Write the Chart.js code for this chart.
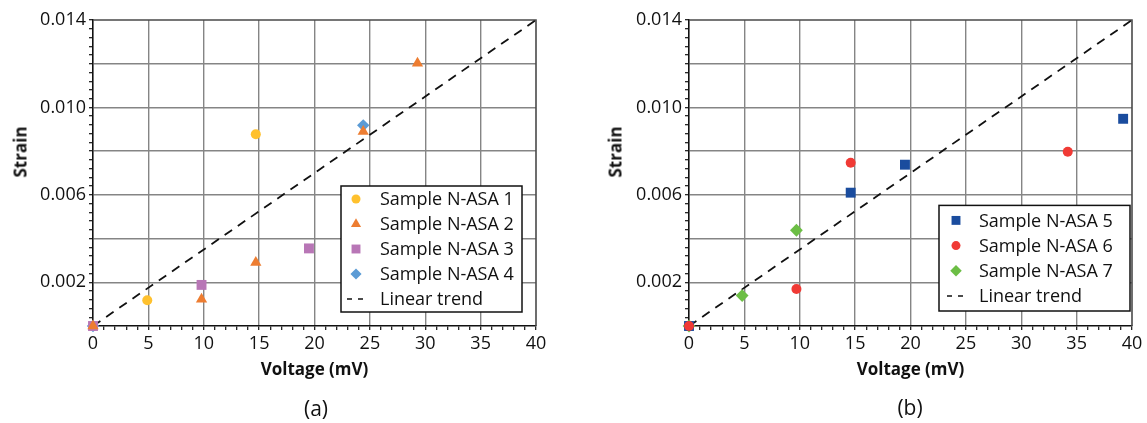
<!DOCTYPE html>
<html><head><meta charset="utf-8">
<script src="https://cdn.jsdelivr.net/npm/chart.js@4.4.0/dist/chart.umd.min.js"></script>
<style>
body{margin:0;background:#fff;width:1147px;height:423px;overflow:hidden;position:relative;font-family:"Open Sans",sans-serif;}
.c{position:absolute;top:0;height:423px;}
#wa{left:0;width:573px;} #wb{left:596px;width:551px;}
.yt{position:absolute;font-weight:bold;font-size:17px;transform:translate(-50%,-50%) rotate(-90deg);white-space:nowrap;color:#111;}
.lab{position:absolute;font-size:21px;transform:translate(-50%,-50%);color:#111;white-space:nowrap;}
</style></head><body>
<div class="c" id="wa"><canvas id="ca"></canvas></div>
<div class="c" id="wb"><canvas id="cb"></canvas></div>
<div class="yt" style="left:20px;top:152px;">Strain</div>
<div class="yt" style="left:615px;top:152px;">Strain</div>
<div class="lab" style="left:316px;top:408px;">(a)</div>
<div class="lab" style="left:910px;top:407px;">(b)</div>
<script>
// ---- data ----
const xTickLabels = ['0','5','10','15','20','25','30','35','40'];
const yTickLabels = ['0.002','0.006','0.010','0.014'];
const xAxisTitle = 'Voltage (mV)';

const seriesNamesA = ['Sample N-ASA 1','Sample N-ASA 2','Sample N-ASA 3','Sample N-ASA 4'];
const voltageA1 = [0, 4.9, 14.7];
const strainA1  = [0, 0.00118, 0.00877];
const voltageA2 = [0, 9.8, 14.7, 24.4, 29.3];
const strainA2  = [0, 0.00122, 0.00291, 0.00890, 0.01202];
const voltageA3 = [0, 9.8, 19.5];
const strainA3  = [0, 0.00188, 0.00355];
const voltageA4 = [0, 24.4];
const strainA4  = [0, 0.00918];

const seriesNamesB = ['Sample N-ASA 5','Sample N-ASA 6','Sample N-ASA 7'];
const voltageB5 = [0, 14.6, 19.5, 39.2];
const strainB5  = [0, 0.00610, 0.00738, 0.00948];
const voltageB6 = [0, 9.7, 14.6, 34.2];
const strainB6  = [0, 0.00169, 0.00747, 0.00797];
const voltageB7 = [0, 4.8, 9.7];
const strainB7  = [0, 0.00139, 0.00438];

const trendName = 'Linear trend';
const trendVoltage = [0, 40];
const trendStrain  = [0, 0.014];

// ---- helpers ----
const FONT = "'Open Sans', sans-serif";
const GRID = '#858585';
const pts = (xs, ys) => xs.map((x, i) => ({x: x, y: ys[i]}));

function marker(ctx, style, r, x, y, color) {
  ctx.save();
  ctx.fillStyle = color;
  ctx.beginPath();
  if (style === 'circle') {
    ctx.arc(x, y, r, 0, Math.PI * 2);
  } else if (style === 'rect') {
    const s = r * Math.SQRT1_2;
    ctx.rect(x - s, y - s, 2 * s, 2 * s);
  } else if (style === 'rectRot') {
    ctx.moveTo(x, y - r); ctx.lineTo(x + r, y); ctx.lineTo(x, y + r); ctx.lineTo(x - r, y);
    ctx.closePath();
  } else if (style === 'triangle') {
    ctx.moveTo(x, y - r);
    ctx.lineTo(x + r * Math.sin(Math.PI * 2 / 3), y - r * Math.cos(Math.PI * 2 / 3));
    ctx.lineTo(x - r * Math.sin(Math.PI * 2 / 3), y - r * Math.cos(Math.PI * 2 / 3));
    ctx.closePath();
  }
  ctx.fill();
  ctx.restore();
}

const boxLegend = {
  id: 'boxLegend',
  afterDatasetsDraw(chart, args, o) {
    const ctx = chart.ctx, a = chart.chartArea;
    const ds = chart.data.datasets;
    const h = o.padTop * 2 + (ds.length - 1) * o.rowH;
    const x0 = a.right - o.right - o.width;
    const y0 = a.bottom - o.bottom - h;
    ctx.save();
    ctx.fillStyle = '#fff';
    ctx.fillRect(x0, y0, o.width, h);
    ctx.strokeStyle = '#111';
    ctx.lineWidth = 1.5;
    ctx.strokeRect(x0, y0, o.width, h);
    ctx.font = '18px ' + FONT;
    ctx.textBaseline = 'middle';
    ctx.fillStyle = '#111';
    ds.forEach((d, i) => {
      const y = y0 + o.padTop + i * o.rowH;
      const mx = x0 + o.markerX;
      if (d.showLine) {
        ctx.save();
        ctx.strokeStyle = '#111'; ctx.lineWidth = 1.6;
        ctx.beginPath();
        ctx.moveTo(mx - 9, y); ctx.lineTo(mx - 4, y);
        ctx.moveTo(mx + 2, y); ctx.lineTo(mx + 7, y);
        ctx.stroke();
        ctx.restore();
      } else {
        marker(ctx, d.pointStyle, d.legendRadius, mx, y, d.backgroundColor);
      }
      ctx.fillStyle = '#111';
      ctx.fillText(d.label, x0 + o.textX, y + 1);
    });
    ctx.restore();
  }
};

const frame = {
  id: 'frame',
  beforeDatasetsDraw(chart) {
    const ctx = chart.ctx, a = chart.chartArea;
    ctx.save();
    ctx.strokeStyle = '#4a4a4a';
    ctx.lineWidth = 1.6;
    ctx.beginPath();
    ctx.moveTo(a.left, a.top); ctx.lineTo(a.right, a.top); ctx.lineTo(a.right, a.bottom);
    ctx.stroke();
    ctx.restore();
  }
};

function scalesCfg() {
  return {
    x: {
      type: 'linear', min: 0, max: 40,
      ticks: {
        stepSize: 1, autoSkip: false, maxRotation: 0, padding: 3, color: '#111',
        font: {family: FONT, size: 18},
        callback: (v) => { const r = Math.round(v); return (Math.abs(v - r) < 1e-6 && xTickLabels.includes(String(r))) ? String(r) : ''; }
      },
      grid: {
        color: (c) => { const v = c.tick ? Math.round(c.tick.value) : -1; return (v % 5 === 0 && v > 0 && v < 40) ? GRID : 'rgba(0,0,0,0)'; },
        lineWidth: 1.4, tickColor: '#111', tickLength: 4, tickWidth: 1.2
      },
      border: {color: '#111', width: 1.6},
      title: {display: true, text: xAxisTitle, color: '#111', font: {family: FONT, size: 17, weight: 'bold'}, padding: {top: 0, bottom: 0}},
      afterFit: (s) => { s.height = 54; }
    },
    y: {
      type: 'linear', min: 0, max: 0.014,
      ticks: {
        stepSize: 0.0004, autoSkip: false, maxTicksLimit: 100, padding: 3, color: '#111',
        font: {family: FONT, size: 18},
        callback: (v) => {
          const k = Math.round(v * 10000);
          if (Math.abs(v * 10000 - k) > 1e-6) return '';
          const s = (k / 10000).toFixed(3);
          return (k % 40 === 20 && yTickLabels.includes(s)) ? s : '';
        }
      },
      grid: {
        color: (c) => { const k = c.tick ? Math.round(c.tick.value * 10000) : -1; return (k % 20 === 0 && k > 0 && k < 140) ? GRID : 'rgba(0,0,0,0)'; },
        lineWidth: 1.4, tickColor: '#111', tickLength: 4, tickWidth: 1.2
      },
      border: {color: '#111', width: 1.6},
      afterFit: (s) => { s.width = 93; }
    }
  };
}

function scatterSet(label, xs, ys, color, style, r, order) {
  return {label: label, data: pts(xs, ys), backgroundColor: color, borderColor: color, borderWidth: 0,
    pointStyle: style, pointRadius: r, pointHoverRadius: r, legendRadius: r * 0.9, showLine: false, order: order, clip: false};
}
function trendSet() {
  return {label: trendName, data: pts(trendVoltage, trendStrain), showLine: true, borderColor: '#111',
    borderWidth: 1.8, borderDash: [9, 7], pointRadius: 0, fill: false, order: 10};
}

function makeChart(id, datasets, padRight, legendOpts) {
  return new Chart(document.getElementById(id), {
    type: 'scatter',
    data: {datasets: datasets},
    options: {
      responsive: true, maintainAspectRatio: false, animation: false,
      layout: {padding: {top: 20, right: padRight, bottom: 43, left: 0}},
      scales: scalesCfg(),
      plugins: {legend: {display: false}, tooltip: {enabled: false}, boxLegend: legendOpts}
    },
    plugins: [frame, boxLegend]
  });
}

makeChart('ca', [
  scatterSet(seriesNamesA[0], voltageA1, strainA1, '#FFC12E', 'circle', 5, 4),
  scatterSet(seriesNamesA[1], voltageA2, strainA2, '#ED7D31', 'triangle', 6.5, 1),
  scatterSet(seriesNamesA[2], voltageA3, strainA3, '#B876B6', 'rect', 7, 2),
  scatterSet(seriesNamesA[3], voltageA4, strainA4, '#5B9BD5', 'rectRot', 6.2, 3),
  trendSet()
], 37, {width: 181, right: 14, bottom: 14, padTop: 13, rowH: 25, markerX: 15, textX: 39});

makeChart('cb', [
  scatterSet(seriesNamesB[0], voltageB5, strainB5, '#1A4C9E', 'rect', 7, 2),
  scatterSet(seriesNamesB[1], voltageB6, strainB6, '#F03A35', 'circle', 5, 1),
  scatterSet(seriesNamesB[2], voltageB7, strainB7, '#6CBE45', 'rectRot', 6.4, 3),
  trendSet()
], 15, {width: 191, right: 2, bottom: 15, padTop: 15, rowH: 25.2, markerX: 17, textX: 40});
</script>
</body></html>
